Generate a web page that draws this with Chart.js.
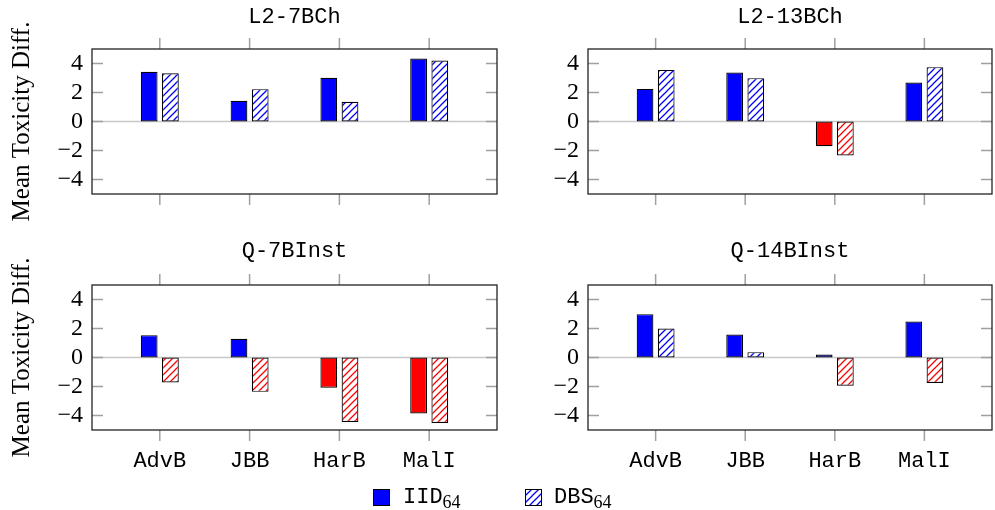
<!DOCTYPE html>
<html><head><meta charset="utf-8">
<script src="https://cdn.jsdelivr.net/npm/chart.js@4"></script>
<style>
html,body{margin:0;padding:0;background:#fff;}
#wrap{position:relative;width:995px;height:510px;overflow:hidden;background:#fff;}
canvas{position:absolute;}
.lg{position:absolute;}
.txt{font-family:'Liberation Mono',monospace;font-size:22px;line-height:22px;white-space:nowrap;color:#000;}
.txt sub{font-family:'Liberation Serif',serif;font-size:18px;vertical-align:-5px;line-height:0;}
</style></head><body>
<div id="wrap">
<canvas id="c0" width="520" height="230" style="left:0;top:0"></canvas>
<canvas id="c1" width="475" height="230" style="left:520px;top:0"></canvas>
<canvas id="c2" width="520" height="280" style="left:0;top:230px"></canvas>
<canvas id="c3" width="475" height="280" style="left:520px;top:230px"></canvas>
<div class="lg" style="left:373px;top:489px;width:17px;height:17px;box-sizing:border-box;border:1px solid #000;background:#00f"></div>
<div class="lg txt" style="left:403px;top:487px">IID<sub>64</sub></div>
<canvas id="lgh" width="17" height="17" style="left:525px;top:489px"></canvas>
<div class="lg txt" style="left:554px;top:487px">DBS<sub>64</sub></div>
</div>
<script>
// ---- data ----
const categories = ['AdvB', 'JBB', 'HarB', 'MalI'];
const panelTitles = ['L2-7BCh', 'L2-13BCh', 'Q-7BInst', 'Q-14BInst'];
const yTicks = [-4, -2, 0, 2, 4];
const iid_L2_7BCh  = [3.43, 1.43, 3.01, 4.34];
const dbs_L2_7BCh  = [3.33, 2.23, 1.36, 4.21];
const iid_L2_13BCh = [2.25, 3.38, -1.70, 2.69];
const dbs_L2_13BCh = [3.56, 2.99, -2.34, 3.75];
const iid_Q_7BInst = [1.54, 1.29, -2.09, -3.86];
const dbs_Q_7BInst = [-1.72, -2.37, -4.44, -4.51];
const iid_Q_14BInst = [2.99, 1.59, 0.21, 2.48];
const dbs_Q_14BInst = [2.00, 0.37, -1.95, -1.75];

const BLUE = '#0000ff', RED = '#ff0000';
function hatchCanvas(color){
  const c = document.createElement('canvas'); c.width = c.height = 7;
  const g = c.getContext('2d');
  g.fillStyle = '#fff'; g.fillRect(0,0,7,7);
  g.strokeStyle = color; g.lineWidth = 1.25;
  g.beginPath(); g.moveTo(-1,8); g.lineTo(8,-1);
  g.moveTo(-1,1); g.lineTo(1,-1); g.moveTo(6,8); g.lineTo(8,6); g.stroke();
  return c;
}
const hb = hatchCanvas(BLUE), hr = hatchCanvas(RED);
const tmp = document.createElement('canvas').getContext('2d');
const HATCH_BLUE = tmp.createPattern(hb, 'repeat');
const HATCH_RED = tmp.createPattern(hr, 'repeat');

// legend hatch box
(function(){
  const g = document.getElementById('lgh').getContext('2d');
  g.fillStyle = HATCH_BLUE; g.fillRect(0,0,17,17);
  g.strokeStyle = '#000'; g.lineWidth = 1; g.strokeRect(0.5,0.5,16,16);
})();

const frame = {
  id: 'frame',
  beforeDatasetsDraw(chart){
    const {ctx, chartArea: a, scales: {x, y}} = chart;
    ctx.save();
    const y0 = y.getPixelForValue(0);
    ctx.strokeStyle = '#c8c8c8'; ctx.lineWidth = 1.5;
    ctx.beginPath(); ctx.moveTo(a.left, y0); ctx.lineTo(a.right, y0); ctx.stroke();
    ctx.strokeStyle = '#a0a0a0'; ctx.lineWidth = 1.5;
    ctx.beginPath();
    y.ticks.forEach(t => {
      const p = y.getPixelForValue(t.value);
      ctx.moveTo(a.left, p); ctx.lineTo(a.left + 11, p);
      ctx.moveTo(a.right - 11, p); ctx.lineTo(a.right, p);
    });
    x.ticks.forEach(t => {
      const p = x.getPixelForValue(t.value);
      ctx.moveTo(p, a.top - 11); ctx.lineTo(p, a.top);
      ctx.moveTo(p, a.bottom); ctx.lineTo(p, a.bottom + 11);
    });
    ctx.stroke();
    ctx.restore();
  },
  afterDatasetsDraw(chart){
    const {ctx, chartArea: a} = chart;
    ctx.save();
    ctx.strokeStyle = '#222'; ctx.lineWidth = 1.3;
    ctx.strokeRect(a.left, a.top, a.right - a.left, a.bottom - a.top);
    ctx.restore();
  }
};

function makePanel(id, title, iid, dbs, o){
  const toPts = arr => arr.map((v, i) => ({x: i, y: v}));
  new Chart(document.getElementById(id), {
    type: 'bar',
    data: {
      datasets: [
        { label: 'IID64', data: toPts(iid),
          backgroundColor: c => (c.raw && c.raw.y < 0) ? RED : BLUE },
        { label: 'DBS64', data: toPts(dbs),
          backgroundColor: c => (c.raw && c.raw.y < 0) ? HATCH_RED : HATCH_BLUE }
      ]
    },
    options: {
      responsive: false, animation: false, devicePixelRatio: 1,
      layout: { padding: { left: 0, right: o.padRight, top: 0, bottom: 0 } },
      datasets: { bar: { borderColor: '#000', borderWidth: 1.2, borderSkipped: false,
        categoryPercentage: 0.4725, barPercentage: 0.79 } },
      plugins: {
        legend: { display: false }, tooltip: { enabled: false },
        title: { display: true, text: title, fullSize: false, color: '#000',
          font: { family: 'Liberation Mono', size: 22, weight: 'normal', lineHeight: '24px' },
          padding: { top: o.tTop, bottom: o.tBottom } }
      },
      scales: {
        x: { type: 'linear', min: -0.755, max: 3.755, offset: false,
          afterBuildTicks: s => { s.ticks = categories.map((c, i) => ({ value: i })); },
          ticks: { display: o.xLabels, autoSkip: false, maxRotation: 0, padding: 18, color: '#000',
            font: { family: 'Liberation Mono', size: 22 },
            callback: (v, i) => categories[i] },
          grid: { display: false, drawTicks: false }, border: { display: false },
          afterFit: s => { s.height = o.xH; } },
        y: { min: -5, max: 5,
          afterBuildTicks: s => { s.ticks = yTicks.map(v => ({ value: v })); },
          ticks: { padding: 9, color: '#000', font: { family: "'Liberation Serif', serif", size: 24 },
            callback: v => v < 0 ? '\u2212' + Math.abs(v) : String(v) },
          grid: { display: false, drawTicks: false }, border: { display: false },
          title: { display: o.yTitle, text: 'Mean Toxicity Diff.', color: '#000',
            font: { family: "'Liberation Serif', serif", size: 25 }, padding: { top: 7, bottom: 0 } },
          afterFit: s => { s.width = o.yW; } }
      }
    },
    plugins: [frame]
  });
}

makePanel('c0', panelTitles[0], iid_L2_7BCh, dbs_L2_7BCh,
  { padRight: 23, tTop: 5, tBottom: 20, xH: 36, xLabels: false, yTitle: true, yW: 92 });
makePanel('c1', panelTitles[1], iid_L2_13BCh, dbs_L2_13BCh,
  { padRight: 3, tTop: 5, tBottom: 20, xH: 36, xLabels: false, yTitle: false, yW: 68 });
makePanel('c2', panelTitles[2], iid_Q_7BInst, dbs_Q_7BInst,
  { padRight: 23, tTop: 9, tBottom: 22, xH: 80, xLabels: true, yTitle: true, yW: 92 });
makePanel('c3', panelTitles[3], iid_Q_14BInst, dbs_Q_14BInst,
  { padRight: 3, tTop: 9, tBottom: 22, xH: 80, xLabels: true, yTitle: false, yW: 68 });
</script>
</body></html>
